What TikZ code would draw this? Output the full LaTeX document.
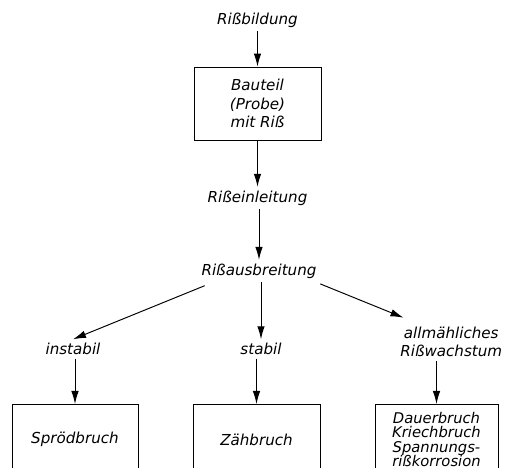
\documentclass[tikz,border=0pt]{standalone}
\usepackage{fontspec}
\setmainfont{DejaVu Sans}
\usetikzlibrary{arrows.meta,positioning}
\tikzset{
  stage/.style={
    font=\itshape\fontsize{8.6}{10.6}\selectfont,
    inner sep=2pt,
    align=center,
  },
  stagebox/.style={
    stage,
    draw=black,
    line width=0.5pt,
    minimum width=2.54cm,
    minimum height=1.46cm,
  },
  bruchbox/.style={
    stagebox,
    anchor=north,
    minimum height=1.4cm,
  },
  flow/.style={
    -{Latex[length=2.6mm,width=1.5mm]},
    line width=0.55pt,
  },
}

\begin{document}
\begin{tikzpicture}
  \useasboundingbox (0,0) rectangle (10.12,-9.36);
  \clip (0,0) rectangle (10.12,-9.36);

  \node [stage] (bild) at (5.15,-0.40) {Rißbildung};
  \node [stagebox] (bauteil) at (5.15,-2.07) {Bauteil\\(Probe)\\mit Riß};
  \node [stage] (einl) at (5.15,-3.96) {Rißeinleitung};
  \node [stage] (ausbr) at (5.18,-5.42) {Rißausbreitung};

  \node [stage] (inst) at (1.46,-6.98) {instabil};
  \node [stage] (stab) at (5.22,-6.98) {stabil};
  \node [stage, anchor=east] (allm) at (10.12,-6.84) {allmähliches\\Rißwachstum};

  \node [bruchbox, minimum width=2.52cm] (sprod) at (1.50,-8.08) {Sprödbruch};
  \node [bruchbox] (zaeh) at (5.13,-8.08) {Zähbruch};
  \node [bruchbox, minimum width=2.46cm, font=\itshape\fontsize{8.4}{8.3}\selectfont]
    (dauer) at (8.73,-8.08) {Dauerbruch\\Kriechbruch\\Spannungs-\\rißkorrosion};

  \draw [flow] (bild) -- (bild |- bauteil.north);
  \draw [flow] (bauteil.south -| einl) -- (einl);
  \draw [flow] (einl.south -| ausbr) -- (ausbr);

  \draw [flow] ([xshift=4pt,yshift=-2pt]ausbr.south west) -- (inst.north);
  \draw [flow] (ausbr.south -| stab) -- (stab);
  \draw [flow] ([yshift=-1pt]ausbr.south east) -- ([xshift=4pt,yshift=3pt]allm.north west);

  \draw [flow] (inst.south -| sprod.north) -- (sprod.north);
  \draw [flow] (stab.south -| zaeh.north) -- (zaeh.north);
  \draw [flow] (allm.south -| dauer.north) -- (dauer.north);
\end{tikzpicture}
\end{document}
